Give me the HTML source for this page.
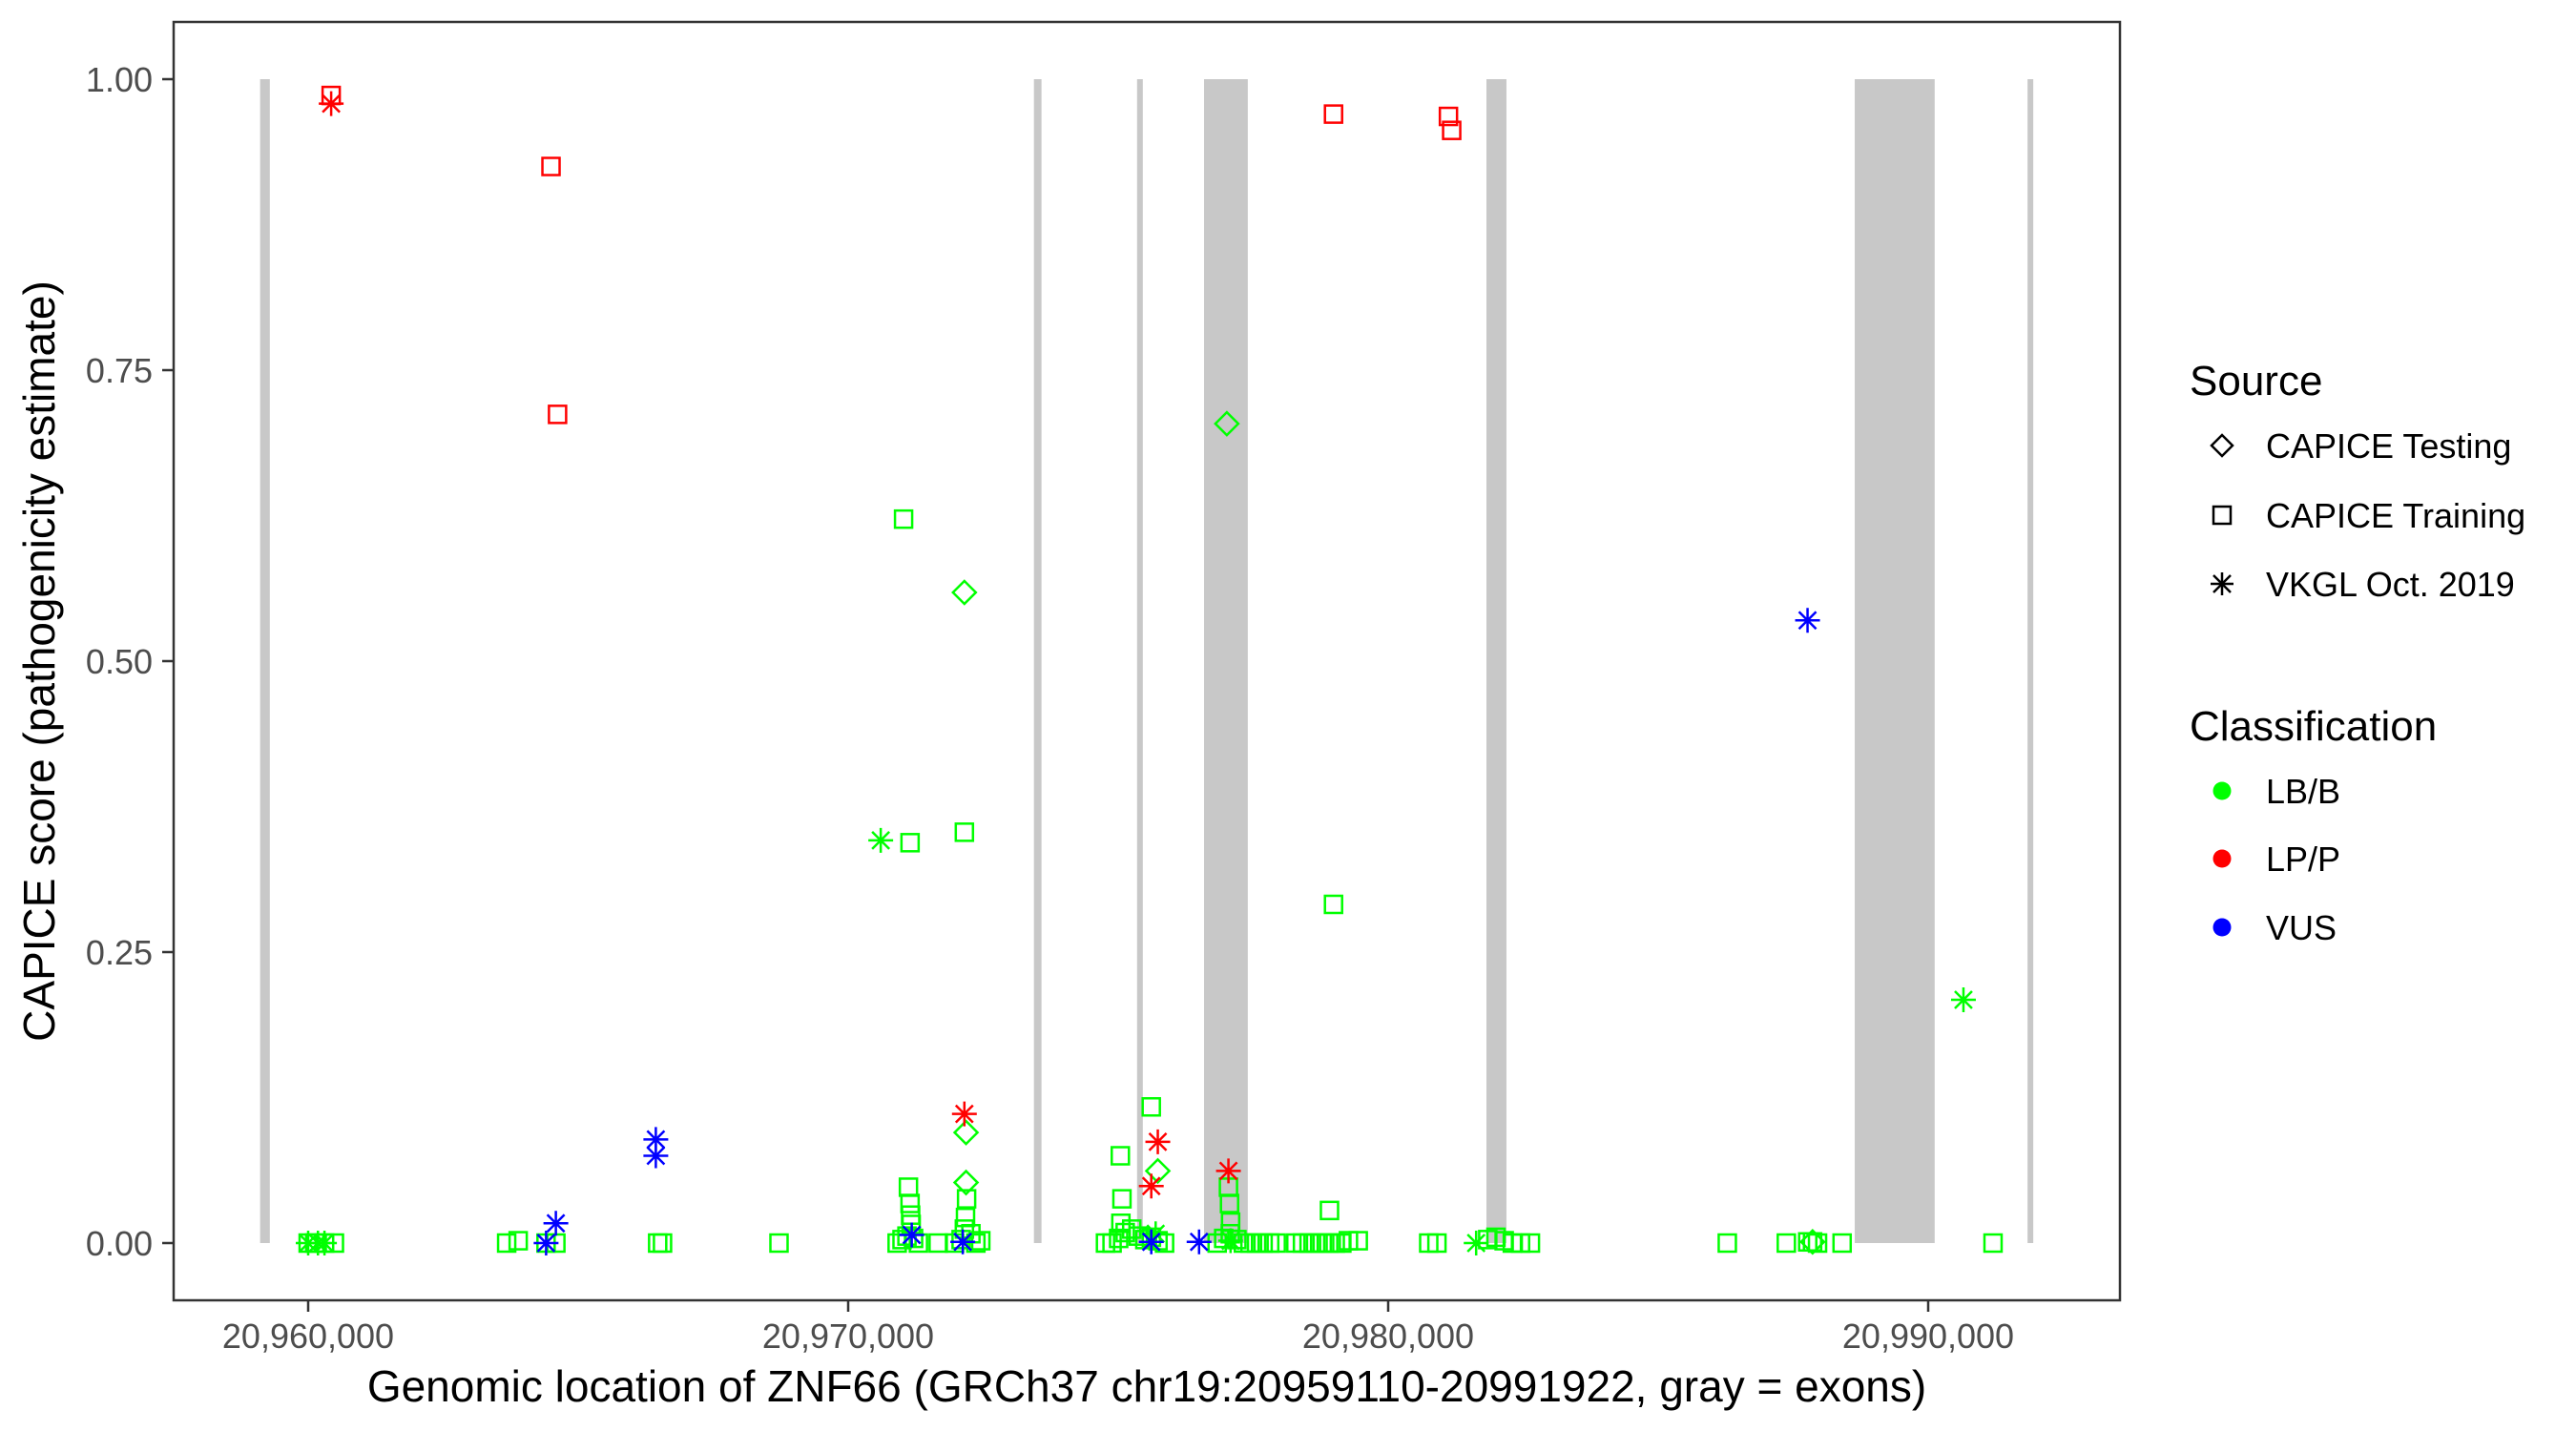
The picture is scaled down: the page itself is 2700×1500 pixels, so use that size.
<!DOCTYPE html>
<html><head><meta charset="utf-8"><style>
html,body{margin:0;padding:0;background:#fff;}
svg{display:block;font-family:"Liberation Sans",Arial,sans-serif;}
</style></head><body>
<svg id="chart" width="2700" height="1500" viewBox="0 0 2700 1500" xmlns="http://www.w3.org/2000/svg">
<rect x="0" y="0" width="2700" height="1500" fill="#fff"/>
<g id="exons"></g>
<g id="points"></g>
<rect x="182" y="23" width="2040" height="1340" fill="none" stroke="#333" stroke-width="2.5"/>
<g id="axes"></g>
<text x="1202" y="1469" text-anchor="middle" font-size="46" fill="#000">Genomic location of ZNF66 (GRCh37 chr19:20959110-20991922, gray = exons)</text>
<text transform="translate(57,693) rotate(-90)" text-anchor="middle" font-size="46" fill="#000">CAPICE score (pathogenicity estimate)</text>
<g id="legend">
<text x="2295" y="414" font-size="44" fill="#000">Source</text>
<path d="M2329,456 L2340,467 L2329,478 L2318,467 Z" fill="none" stroke="#000" stroke-width="2.5"/>
<text x="2375" y="480" font-size="36" fill="#000">CAPICE Testing</text>
<rect x="2320" y="531" width="18" height="18" fill="none" stroke="#000" stroke-width="2.5"/>
<text x="2375" y="553" font-size="36" fill="#000">CAPICE Training</text>
<g stroke="#000" stroke-width="2.5"><line x1="2329" y1="600" x2="2329" y2="624"/><line x1="2317" y1="612" x2="2341" y2="612"/><line x1="2320" y1="603" x2="2338" y2="621"/><line x1="2320" y1="621" x2="2338" y2="603"/></g>
<text x="2375" y="625" font-size="36" fill="#000">VKGL Oct. 2019</text>
<text x="2295" y="776" font-size="44" fill="#000">Classification</text>
<circle cx="2329" cy="829" r="9.5" fill="#00ff00"/>
<text x="2375" y="842" font-size="36" fill="#000">LB/B</text>
<circle cx="2329" cy="900" r="9.5" fill="#ff0000"/>
<text x="2375" y="913" font-size="36" fill="#000">LP/P</text>
<circle cx="2329" cy="972" r="9.5" fill="#0000ff"/>
<text x="2375" y="985" font-size="36" fill="#000">VUS</text>
</g>
</svg>
<script>
const exonStart = [20959110, 20973440, 20975350, 20976590, 20981820, 20988640, 20991840];
const exonEnd   = [20959290, 20973580, 20975450, 20977400, 20982190, 20990120, 20991922];
const xTicks = [20960000, 20970000, 20980000, 20990000];
const xTickLabels = ["20,960,000", "20,970,000", "20,980,000", "20,990,000"];
const yTicks = [0, 0.25, 0.5, 0.75, 1.0];
const yTickLabels = ["0.00", "0.25", "0.50", "0.75", "1.00"];

// CAPICE Training (square)
const trainLbbPos = [20971026,20971146,20972152,20978988,20975613,20975040,20975070,20975050,20971116,20971146,20971157,20971167,20972193,20972173,20972152,20977042,20977062,20977082,20978913,
 20960000,20960122,20960304,20960486,20963676,20963889,20964405,20964587,20966472,20966562,20968719,20970907,20970998,20971089,20971211,20971301,20971667,20971970,20972092,20972273,20972365,20972456,20974765,20974887,20975009,20975130,20975251,20975373,20975494,20975616,20975738,20975859,20976833,20976955,20977076,20977198,20977319,20977441,20977563,20977684,20977806,20977927,20978291,20978413,20978535,20978656,20978778,20978899,20979020,20979142,20979264,20979446,20980751,20980903,20981844,20981996,20982148,20982299,20982451,20982634,20986280,20987373,20987769,20987859,20987951,20988406,20991201];
const trainLbbScore = [0.622,0.344,0.353,0.291,0.117,0.075,0.038,0.017,0.048,0.034,0.024,0.016,0.038,0.022,0.012,0.048,0.034,0.018,0.028,
 0,0,0,0,0,0.002,0,0,0,0,0,0,0.003,0.006,0.004,0,0,0,0.003,0.008,0,0.002,0,0,0.004,0.009,0.012,0.006,0.003,0.005,0.002,0,0,0.004,0.008,0.003,0,0,0,0,0,0,0,0,0,0,0,0,0,0,0.002,0.002,0,0,0.003,0.005,0.002,0,0,0,0,0,0.001,0.001,0,0,0];
const trainLppPos = [20960426, 20964497, 20964618, 20978988, 20981116, 20981176];
const trainLppScore = [0.986, 0.925, 0.712, 0.970, 0.968, 0.956];

// CAPICE Testing (diamond)
const testLbbPos = [20977012, 20972152, 20972183, 20972183, 20975734, 20987859];
const testLbbScore = [0.704, 0.559, 0.095, 0.052, 0.062, 0.001];

// VKGL (asterisk)
const vkglLbbPos = [20970603, 20990653, 20960000, 20960181, 20960302, 20981629, 20975694, 20977082];
const vkglLbbScore = [0.346, 0.209, 0, 0, 0, 0, 0.008, 0.002];
const vkglLppPos = [20960426, 20972152, 20975734, 20975613, 20977042];
const vkglLppScore = [0.979, 0.111, 0.087, 0.049, 0.062];
const vkglVusPos = [20966438, 20966438, 20964587, 20964406, 20971177, 20972122, 20975613, 20976498, 20987766];
const vkglVusScore = [0.089, 0.075, 0.017, 0.0, 0.007, 0.001, 0.001, 0.001, 0.535];

const NS = "http://www.w3.org/2000/svg";
function xs(g){ return 323 + (g - 20960000) * 566 / 10000; }
function ys(s){ return 1303 - s * 1220; }
function mk(tag, attrs, parent){ const e = document.createElementNS(NS, tag); for (const k in attrs) e.setAttribute(k, attrs[k]); parent.appendChild(e); return e; }

const exG = document.getElementById('exons');
for (let i = 0; i < exonStart.length; i++) {
  const w = Math.max(xs(exonEnd[i]) - xs(exonStart[i]), 6);
  const r = mk('rect', {x: xs(exonStart[i]), y: ys(1), width: w, height: ys(0) - ys(1), fill: '#c8c8c8'}, exG);
  
  
}

const ax = document.getElementById('axes');
for (let i = 0; i < xTicks.length; i++) {
  const x = xs(xTicks[i]);
  const t = mk('line', {x1: x, y1: 1363, x2: x, y2: 1375, stroke: '#333', 'stroke-width': 2.5}, ax);
  
  
  const l = mk('text', {x: x, y: 1413, 'text-anchor': 'middle', 'font-size': 36, fill: '#4d4d4d'}, ax);
  l.textContent = xTickLabels[i];
  
  
}
for (let i = 0; i < yTicks.length; i++) {
  const y = ys(yTicks[i]);
  const t = mk('line', {x1: 170, y1: y, x2: 182, y2: y, stroke: '#333', 'stroke-width': 2.5}, ax);
  
  
  const l = mk('text', {x: 160, y: y + 13, 'text-anchor': 'end', 'font-size': 36, fill: '#4d4d4d'}, ax);
  l.textContent = yTickLabels[i];
  
  
}

const pg = document.getElementById('points');
function square(pos, sc, col){
  for (let i = 0; i < pos.length; i++) {
    const r = mk('rect', {x: xs(pos[i]) - 9, y: ys(sc[i]) - 9, width: 18, height: 18, fill: 'none', stroke: col, 'stroke-width': 2.5}, pg);
    
    
  }
}
function diamond(pos, sc, col){
  for (let i = 0; i < pos.length; i++) {
    const x = xs(pos[i]), y = ys(sc[i]);
    const p = mk('path', {d: `M${x},${y-12} L${x+12},${y} L${x},${y+12} L${x-12},${y} Z`, fill: 'none', stroke: col, 'stroke-width': 2.5}, pg);
    
    
  }
}
function star(pos, sc, col){
  for (let i = 0; i < pos.length; i++) {
    const x = xs(pos[i]), y = ys(sc[i]);
    const p = mk('path', {d: `M${x},${y-13} L${x},${y+13} M${x-13},${y} L${x+13},${y} M${x-9},${y-9} L${x+9},${y+9} M${x-9},${y+9} L${x+9},${y-9}`, fill: 'none', stroke: col, 'stroke-width': 2.5}, pg);
    
    
  }
}
square(trainLbbPos, trainLbbScore, '#00ff00');
diamond(testLbbPos, testLbbScore, '#00ff00');
star(vkglLbbPos, vkglLbbScore, '#00ff00');
square(trainLppPos, trainLppScore, '#ff0000');
star(vkglLppPos, vkglLppScore, '#ff0000');
star(vkglVusPos, vkglVusScore, '#0000ff');
</script>
</body></html>
